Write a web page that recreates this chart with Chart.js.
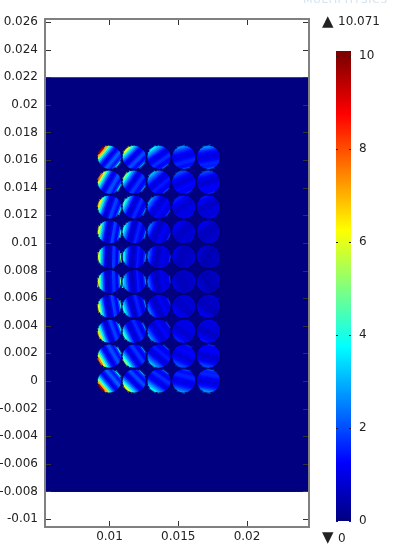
<!DOCTYPE html>
<html>
<head>
<meta charset="utf-8">
<script src="https://cdn.jsdelivr.net/npm/chart.js@4"></script>
<style>
  html, body { margin: 0; padding: 0; background: #fff; overflow: hidden; }
  #page { position: relative; width: 393px; height: 551px; overflow: hidden; font-family: "DejaVu Sans", sans-serif; color: #222; }
  canvas { position: absolute; }
  #circleChart { filter: blur(0.7px); }
  .note { position: absolute; font-size: 12px; line-height: 14px; white-space: nowrap; }
  .mark { font-size: 15px; }
  #brand { position: absolute; left: 303px; top: -7px; font-size: 11px; line-height: 13px; letter-spacing: 0.5px; color: #d6e4ef; white-space: nowrap; }
</style>
</head>
<body>
<div id="page">
  <canvas id="fieldChart" width="393" height="551" style="left:0;top:0"></canvas>
  <canvas id="circleChart" width="393" height="551" style="left:0;top:0"></canvas>
  <canvas id="barChart" width="73" height="511" style="left:320px;top:30px"></canvas>
  <div id="brand">MULTIPHYSICS</div>
  <div class="note mark" style="left:322px;top:14px">▲</div>
  <div class="note" style="left:338px;top:14px">10.071</div>
  <div class="note mark" style="left:322px;top:530px">▼</div>
  <div class="note" style="left:338px;top:531px">0</div>
</div>
<script>
const xTicks = [0.01, 0.015, 0.02];
const yTicks = [0.026, 0.024, 0.022, 0.02, 0.018, 0.016, 0.014, 0.012, 0.01, 0.008, 0.006, 0.004, 0.002, 0, -0.002, -0.004, -0.006, -0.008, -0.01];
const barTicks = [0, 2, 4, 6, 8, 10];

const fieldMin = 0;
const barTop = 10.1;
const backgroundValue = 0;

// domain rectangle
const domainTop = 0.022;
const domainBottom = -0.008;

// circle centres
const columnX = [0.01, 0.0118, 0.0136, 0.0154, 0.0172];
const rowY = [0.0162, 0.0144, 0.0126, 0.0108, 0.009, 0.0072, 0.0054, 0.0036, 0.0018, 0];
const circleR = 0.00085;

// direction of the hot side in each circle, degrees, top five rows
const stripeAngles = [
  [140, 135, 125, 105, 100],
  [150, 145, 130, 115, 105],
  [160, 155, 145, 125, 115],
  [170, 165, 155, 135, 125],
  [178, 175, 170, 160, 150]
];

// field read across each circle, hot side first. The picture is mirrored
// about y = 0.0081, so the lower five rows reuse these.
const row1 = [
  [9.5, 7, 5, 3.5, 2.5, 1.7, 1.1, 1.1, 1.5, 2.1, 2.2, 1.7, 1.4, 2, 3.6],
  [6, 4.4, 3.3, 2.5, 1.8, 1.2, 1, 1.1, 1.6, 2, 1.9, 1.4, 1.3, 1.7, 2.8],
  [3.6, 3, 2.5, 2, 1.5, 1.1, 1, 1.1, 1.4, 1.7, 1.6, 1.3, 1.2, 1.4, 2.2],
  [2.6, 2.2, 1.8, 1.5, 1.3, 1.1, 1, 1.1, 1.3, 1.5, 1.6, 1.5, 1.3, 1.4, 1.9],
  [2.6, 2.2, 1.7, 1.4, 1.2, 1, 0.9, 1, 1.1, 1.3, 1.5, 1.6, 1.5, 1.6, 2.1]
];
const row2 = [
  [7.5, 5.6, 4.1, 3, 2.1, 1.4, 1, 1.1, 1.5, 2, 2, 1.6, 1.3, 1.9, 3.6],
  [5, 3.8, 2.9, 2.2, 1.6, 1.1, 0.9, 1.1, 1.5, 1.8, 1.7, 1.3, 1.2, 1.5, 2.6],
  [3, 2.5, 2.1, 1.7, 1.3, 1, 0.9, 1, 1.3, 1.5, 1.4, 1.2, 1.1, 1.2, 2],
  [2, 1.8, 1.5, 1.3, 1.1, 1, 0.9, 0.9, 1.1, 1.2, 1.3, 1.2, 1.2, 1.2, 1.6],
  [1.9, 1.7, 1.4, 1.2, 1, 0.9, 0.8, 0.8, 0.9, 1.1, 1.2, 1.2, 1.2, 1.2, 1.6]
];
const row3 = [
  [6.5, 4.8, 3.5, 2.5, 1.7, 1.1, 0.8, 0.9, 1.4, 1.9, 1.8, 1.4, 1.2, 2, 3.8],
  [4.2, 3.3, 2.5, 1.9, 1.3, 0.9, 0.8, 1, 1.4, 1.7, 1.5, 1.1, 1, 1.4, 2.5],
  [2.6, 2.1, 1.8, 1.4, 1.1, 0.9, 0.8, 0.9, 1.1, 1.3, 1.2, 1, 1, 1.1, 1.8],
  [1.5, 1.4, 1.2, 1.1, 1, 0.8, 0.8, 0.8, 0.9, 1, 1, 1, 1, 1, 1.3],
  [1.4, 1.2, 1.1, 1, 0.8, 0.7, 0.7, 0.7, 0.8, 0.9, 0.9, 0.9, 0.9, 1, 1.2]
];
const row4 = [
  [6, 4.4, 3.1, 2.2, 1.4, 0.9, 0.7, 0.8, 1.3, 1.9, 1.8, 1.3, 1.2, 2.1, 4.2],
  [3.8, 3, 2.3, 1.7, 1.1, 0.8, 0.7, 0.9, 1.4, 1.6, 1.4, 1, 1, 1.4, 2.6],
  [2.3, 1.9, 1.5, 1.2, 0.9, 0.7, 0.7, 0.8, 1, 1.2, 1.1, 0.9, 0.9, 1.1, 1.7],
  [1.2, 1.1, 1, 0.9, 0.8, 0.7, 0.7, 0.7, 0.7, 0.8, 0.9, 0.8, 0.8, 0.8, 1.1],
  [1.1, 1, 0.9, 0.8, 0.7, 0.6, 0.6, 0.6, 0.6, 0.7, 0.7, 0.7, 0.7, 0.8, 1]
];
const row5 = [
  [5.8, 4.2, 2.9, 2, 1.2, 0.8, 0.6, 0.7, 1.2, 1.8, 1.7, 1.2, 1.2, 2.3, 4.8],
  [3.6, 2.8, 2.1, 1.5, 1, 0.7, 0.6, 0.8, 1.2, 1.5, 1.3, 1, 1, 1.5, 2.8],
  [2.2, 1.8, 1.4, 1.1, 0.8, 0.6, 0.6, 0.7, 0.9, 1.1, 1, 0.9, 0.9, 1.1, 1.7],
  [1, 0.9, 0.8, 0.7, 0.6, 0.6, 0.6, 0.6, 0.6, 0.7, 0.7, 0.7, 0.7, 0.8, 1],
  [0.9, 0.8, 0.7, 0.6, 0.6, 0.5, 0.5, 0.5, 0.5, 0.6, 0.6, 0.6, 0.6, 0.7, 0.9]
];
const rows = [row1, row2, row3, row4, row5];

const xMin = 0.00531, xMax = 0.02451;
const yMin = -0.01058, yMax = 0.02622;

// rainbow colour scale used by the picture
function jet(v) {
  const t = v / 10;
  const r = Math.min(1, Math.max(0, Math.min(4 * t - 1.5, 4.5 - 4 * t)));
  const g = Math.min(1, Math.max(0, Math.min(4 * t - 0.5, 3.5 - 4 * t)));
  const b = Math.min(1, Math.max(0, Math.min(4 * t + 0.5, 2.5 - 4 * t)));
  return `rgb(${Math.round(r * 255)},${Math.round(g * 255)},${Math.round(b * 255)})`;
}

const domainSets = [
  {
    data: [{ x: xMin, y: domainTop }, { x: xMax, y: domainTop }],
    showLine: true, pointRadius: 0, borderWidth: 0,
    backgroundColor: jet(backgroundValue),
    fill: { value: domainBottom },
    order: 2
  },
  {
    data: [{ x: xMin, y: domainBottom }, { x: xMax, y: domainBottom }],
    showLine: true, pointRadius: 0, borderWidth: 1, borderColor: '#00002a',
    order: 1
  }
];

// each circle is a stack of chords across the stripes
const circleSets = [];
rowY.forEach((cy, r) => {
  const table = r < 5 ? r : 9 - r;
  columnX.forEach((cx, c) => {
    const profile = rows[table][c];
    const deg = r < 5 ? stripeAngles[table][c] : -stripeAngles[table][c];
    const a = deg * Math.PI / 180;
    profile.forEach((v, k) => {
      const s = circleR * (1 - (2 * k + 1) / profile.length);
      const h = Math.sqrt(circleR * circleR - s * s);
      const mx = cx + s * Math.cos(a), my = cy + s * Math.sin(a);
      circleSets.push({
        data: [
          { x: mx - h * Math.sin(a), y: my + h * Math.cos(a) },
          { x: mx + h * Math.sin(a), y: my - h * Math.cos(a) }
        ],
        showLine: true, pointRadius: 0, borderWidth: 2.4,
        borderColor: jet(v), borderCapStyle: 'butt',
        order: 2
      });
    });
  });
});

// dark rims
const rims = [];
rowY.forEach(cy => columnX.forEach(cx => rims.push({ x: cx, y: cy })));
circleSets.push({
  data: rims, showLine: false, pointRadius: 12.2, borderWidth: 1,
  backgroundColor: 'transparent', borderColor: 'rgba(0,0,80,0.7)',
  order: 1
});

const frame = {
  id: 'frame',
  afterDraw(chart) {
    const { ctx, chartArea: a, scales } = chart;
    ctx.save();
    ctx.strokeStyle = '#333';
    ctx.lineWidth = 1;
    ctx.beginPath();
    xTicks.forEach(t => {
      const p = Math.round(scales.x.getPixelForValue(t)) + 0.5;
      ctx.moveTo(p, a.top); ctx.lineTo(p, a.top + 6);
      ctx.moveTo(p, a.bottom); ctx.lineTo(p, a.bottom - 6);
    });
    yTicks.forEach(t => {
      const p = Math.round(scales.y.getPixelForValue(t)) + 0.5;
      ctx.moveTo(a.left, p); ctx.lineTo(a.left + 6, p);
      ctx.moveTo(a.right, p); ctx.lineTo(a.right - 6, p);
    });
    ctx.stroke();
    ctx.strokeStyle = '#808080';
    ctx.lineWidth = 2;
    ctx.strokeRect(a.left, a.top, a.right - a.left, a.bottom - a.top);
    ctx.restore();
  }
};

// both field layers share these axes, the circle layer sits on top with a slight blur
function fieldOptions(labelColor) {
  return {
    responsive: false,
    animation: false,
    events: [],
    layout: { padding: { left: 0, right: 84, top: 19, bottom: 0 } },
    plugins: { legend: { display: false }, tooltip: { enabled: false } },
    scales: {
      x: {
        type: 'linear', min: xMin, max: xMax,
        afterBuildTicks: s => { s.ticks = xTicks.map(value => ({ value })); },
        afterFit: s => { s.height = 24; },
        grid: { display: false, drawTicks: false },
        border: { display: false },
        ticks: { color: labelColor, font: { family: 'DejaVu Sans', size: 12 }, padding: 3, maxRotation: 0, callback: v => String(v) }
      },
      y: {
        type: 'linear', min: yMin, max: yMax,
        afterBuildTicks: s => { s.ticks = yTicks.map(value => ({ value })); },
        afterFit: s => { s.width = 45; },
        grid: { display: false, drawTicks: false },
        border: { display: false },
        ticks: { color: labelColor, font: { family: 'DejaVu Sans', size: 12 }, padding: 7, autoSkip: false, callback: v => String(v) }
      }
    }
  };
}

new Chart(document.getElementById('fieldChart'), {
  type: 'scatter',
  data: { datasets: domainSets },
  options: fieldOptions('#222'),
  plugins: [frame]
});

new Chart(document.getElementById('circleChart'), {
  type: 'scatter',
  data: { datasets: circleSets },
  options: fieldOptions('transparent')
});

const barTickMarks = {
  id: 'barTickMarks',
  afterDraw(chart) {
    const { ctx, chartArea: a, scales } = chart;
    ctx.save();
    ctx.strokeStyle = '#222';
    ctx.lineWidth = 1;
    ctx.beginPath();
    barTicks.forEach(t => {
      const p = Math.round(scales.y.getPixelForValue(t)) + 0.5;
      ctx.moveTo(a.left, p); ctx.lineTo(a.left + 2, p);
      ctx.moveTo(a.right, p); ctx.lineTo(a.right - 2, p);
    });
    ctx.stroke();
    ctx.restore();
  }
};

new Chart(document.getElementById('barChart'), {
  type: 'bar',
  data: {
    labels: ['field'],
    datasets: [{
      data: [barTop],
      barPercentage: 1,
      categoryPercentage: 1,
      backgroundColor(context) {
        const area = context.chart.chartArea;
        if (!area) return jet(fieldMin);
        const g = context.chart.ctx.createLinearGradient(0, area.bottom, 0, area.top);
        for (let v = 0; v <= 10; v += 1.25) g.addColorStop(v / barTop, jet(v));
        g.addColorStop(1, jet(10));
        return g;
      }
    }]
  },
  options: {
    responsive: false,
    animation: false,
    events: [],
    layout: { padding: { left: 16, right: 0, top: 21, bottom: 20 } },
    plugins: { legend: { display: false }, tooltip: { enabled: false } },
    scales: {
      x: { display: false },
      y: {
        position: 'right',
        min: fieldMin, max: barTop,
        afterBuildTicks: s => { s.ticks = barTicks.map(value => ({ value })); },
        afterFit: s => { s.width = 42; },
        grid: { display: false, drawTicks: false },
        border: { display: false },
        ticks: { color: '#222', font: { family: 'DejaVu Sans', size: 12 }, padding: 8, callback: v => String(v) }
      }
    }
  },
  plugins: [barTickMarks]
});
</script>
</body>
</html>
